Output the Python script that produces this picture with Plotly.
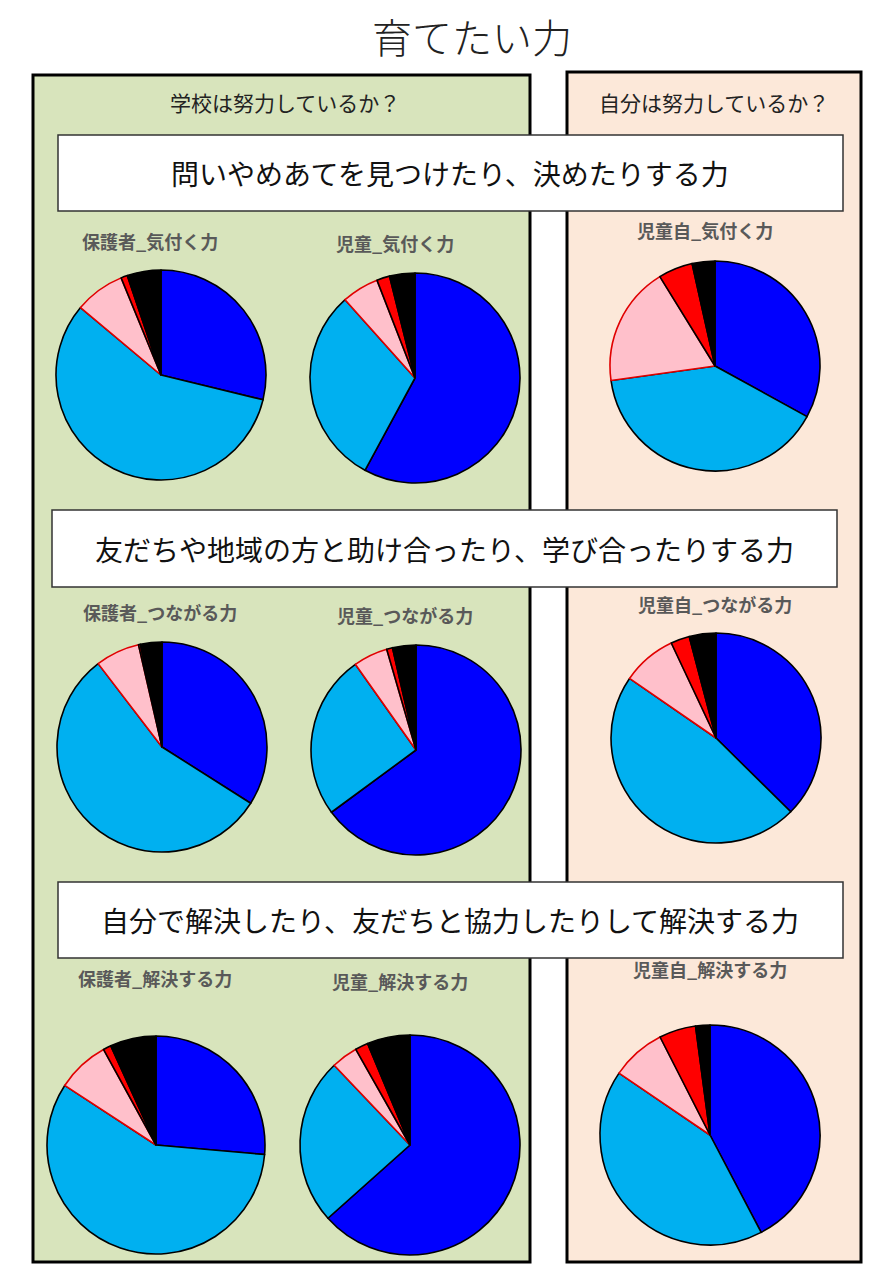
import plotly.graph_objects as go

# answer categories (same order for every pie, drawn clockwise from 12 o'clock)
answers = ['とてもそう思う', 'まあそう思う', 'あまりそう思わない', 'そう思わない', 'わからない']
colors = ['#0000FF', '#00B0F0', '#FFC0CB', '#FF0000', '#000000']
edge_colors = ['#000000', '#000000', '#E00000', '#000000', '#000000']

# percentages
hogosha_kizuku = [28.8, 57.3, 7.7, 1.0, 5.2]
jido_kizuku = [57.9, 30.5, 5.7, 2.0, 3.9]
jidoji_kizuku = [33.0, 39.8, 18.4, 5.3, 3.5]

hogosha_tsunagaru = [34.0, 55.6, 6.8, 0.3, 3.3]
jido_tsunagaru = [64.9, 25.3, 5.3, 0.9, 3.6]
jidoji_tsunagaru = [37.4, 47.2, 8.4, 2.9, 4.1]

hogosha_kaiketsu = [26.4, 57.8, 7.8, 1.2, 6.8]
jido_kaiketsu = [63.4, 24.5, 3.9, 1.9, 6.3]
jidoji_kaiketsu = [42.3, 42.2, 8.0, 5.4, 2.1]

pie_titles = ['保護者_気付く力', '児童_気付く力', '児童自_気付く力',
              '保護者_つながる力', '児童_つながる力', '児童自_つながる力',
              '保護者_解決する力', '児童_解決する力', '児童自_解決する力']
pie_values = [hogosha_kizuku, jido_kizuku, jidoji_kizuku,
              hogosha_tsunagaru, jido_tsunagaru, jidoji_tsunagaru,
              hogosha_kaiketsu, jido_kaiketsu, jidoji_kaiketsu]

chart_title = '育てたい力'
panel_heads = ['学校は努力しているか？', '自分は努力しているか？']
row_heads = ['問いやめあてを見つけたり、決めたりする力',
             '友だちや地域の方と助け合ったり、学び合ったりする力',
             '自分で解決したり、友だちと協力したりして解決する力']

# layout, in page pixels (the page has an 8px body margin)
OFF = 8
W, H = 886 - 2 * OFF, 1280 - 2 * OFF
FONT = 'Noto Sans CJK JP'

# pie centre x, centre y, radius
pie_pos = [(161, 375, 105), (415, 378, 105), (715, 366, 105),
           (162, 747, 105), (416, 750, 105), (716, 738, 105),
           (156, 1145, 109), (410, 1145, 110), (710, 1135, 110)]
title_pos = [(150, 241), (395, 243), (705, 230),
             (160, 612), (405, 615), (715, 604),
             (155, 978), (400, 981), (710, 969)]


def px(x):
    return (x - OFF) / W


def py(y):
    return 1 - (y - OFF) / H


fig = go.Figure()

for vals, (cx, cy, r) in zip(pie_values, pie_pos):
    fig.add_trace(go.Pie(
        labels=answers, values=vals, sort=False, direction='clockwise', rotation=0,
        textinfo='none', showlegend=False,
        marker=dict(colors=colors, line=dict(color=edge_colors, width=1.6)),
        domain=dict(x=[px(cx - r), px(cx + r)], y=[py(cy + r), py(cy - r)]),
    ))

shapes = []
# the two panels
shapes.append(dict(type='rect', xref='paper', yref='paper', layer='below',
                   x0=px(33), x1=px(530), y0=py(1262), y1=py(75),
                   fillcolor='#D8E4BC', line=dict(color='black', width=3)))
shapes.append(dict(type='rect', xref='paper', yref='paper', layer='below',
                   x0=px(567), x1=px(861), y0=py(1262), y1=py(72),
                   fillcolor='#FCE8D9', line=dict(color='black', width=3)))
# white row heading boxes
box_pos = [(58, 843, 135, 211), (52, 837, 510, 587), (58, 843, 882, 958)]
for x0, x1, y0, y1 in box_pos:
    shapes.append(dict(type='rect', xref='paper', yref='paper', layer='below',
                       x0=px(x0), x1=px(x1), y0=py(y1), y1=py(y0),
                       fillcolor='white', line=dict(color='#333333', width=1.5)))


def label(txt, x, y, size, color, weight=400):
    return dict(text=txt, x=px(x), y=py(y), xref='paper', yref='paper',
                xanchor='center', yanchor='middle', showarrow=False,
                font=dict(size=size, color=color, family=FONT, weight=weight))


annotations = [label(chart_title, 472, 36, 40, '#222222', 300)]
for txt, x in zip(panel_heads, [285, 714]):
    annotations.append(label(txt, x, 102, 21, '#222222'))
for txt, (x0, x1, y0, y1) in zip(row_heads, box_pos):
    annotations.append(label(txt, (x0 + x1) / 2, (y0 + y1) / 2, 28, '#111111'))
for txt, (x, y) in zip(pie_titles, title_pos):
    annotations.append(label('<b>' + txt + '</b>', x, y, 18, '#595959'))

fig.update_layout(
    width=W, height=H,
    margin=dict(l=0, r=0, t=0, b=0),
    paper_bgcolor='white', plot_bgcolor='white',
    shapes=shapes, annotations=annotations,
    font=dict(family=FONT),
)

fig.write_html('out.html')
